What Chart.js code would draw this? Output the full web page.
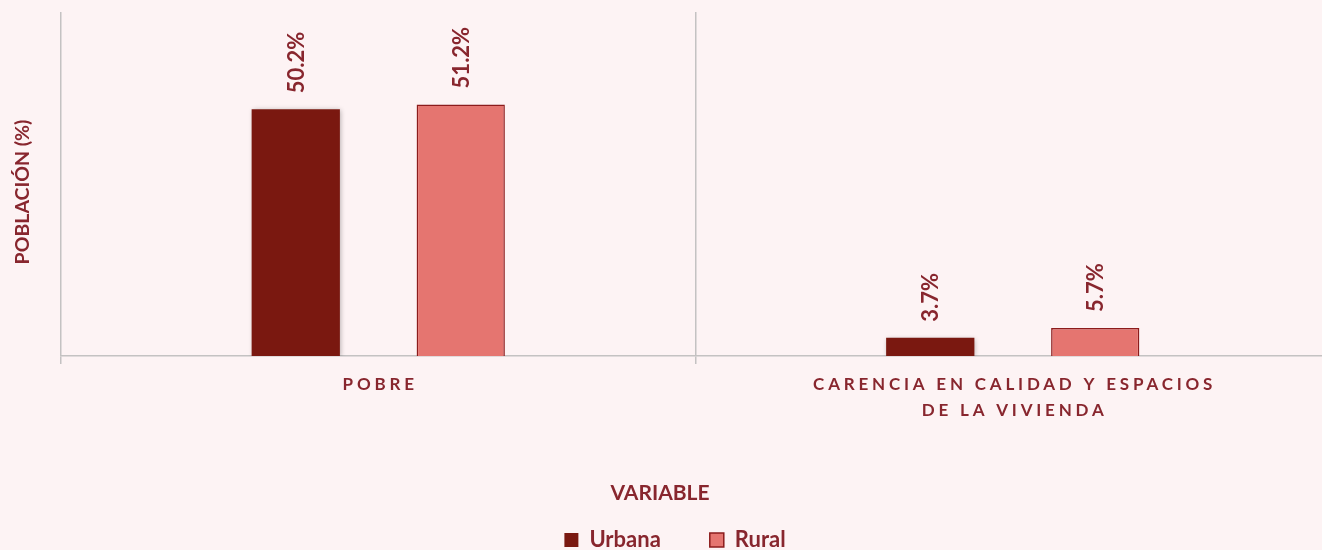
<!DOCTYPE html>
<html><head><meta charset="utf-8">
<script src="https://cdn.jsdelivr.net/npm/chart.js@4"></script>
<style>html,body{margin:0;padding:0;background:#FDF3F4;overflow:hidden;}#wrap{width:1330px;height:550px;position:relative;}</style>
</head><body><div id="wrap"><canvas id="c"></canvas></div>
<script>
const categories = [["POBRE"], ["CARENCIA EN CALIDAD Y ESPACIOS", "DE LA VIVIENDA"]];
const seriesNames = ["Urbana", "Rural"];
const urbana = [50.2, 3.7];
const rural = [51.2, 5.7];
const xTitle = 'VARIABLE';
const yTitle = 'POBLACIÓN (%)';
const yMax = 70;

const TXT = '#88262E';
const FONT = 'Lato';

const labelPlugin = {
  id: 'valueLabels',
  beforeDatasetDraw(chart, args) {
    if (args.index === 0) {
      const ctx = chart.ctx;
      ctx.save();
      ctx.shadowColor = 'rgba(0,0,0,0.3)';
      ctx.shadowBlur = 5;
      ctx.shadowOffsetX = 1;
      ctx.shadowOffsetY = 1;
    }
  },
  afterDatasetDraw(chart, args) {
    if (args.index === 0) chart.ctx.restore();
  },
  afterDatasetsDraw(chart) {
    const ctx = chart.ctx;
    chart.data.datasets.forEach((ds, di) => {
      const meta = chart.getDatasetMeta(di);
      meta.data.forEach((el, i) => {
        ctx.save();
        ctx.translate(el.x, el.y - 16);
        ctx.rotate(-Math.PI / 2);
        ctx.font = 'bold 22px ' + FONT;
        ctx.fillStyle = TXT;
        ctx.textAlign = 'left';
        ctx.textBaseline = 'middle';
        ctx.fillText(ds.data[i].toFixed(1) + '%', 0, 1);
        ctx.restore();
      });
    });
  },
  afterDraw(chart) {
    const ctx = chart.ctx;
    const xs = chart.scales.x;
    ctx.save();
    ctx.font = 'bold 17px ' + FONT;
    ctx.fillStyle = TXT;
    ctx.textAlign = 'center';
    ctx.textBaseline = 'middle';
    const sp = 3.8;
    ctx.letterSpacing = sp + 'px';
    categories.forEach((lines, i) => {
      const x = xs.getPixelForTick(i) + sp / 2;
      lines.forEach((t, j) => {
        ctx.fillText(t, x, chart.chartArea.bottom + 29 + j * 25.5);
      });
    });
    ctx.letterSpacing = '0px';
    ctx.font = 'bold 21px ' + FONT;
    ctx.fillText(xTitle, 660, 493);
    ctx.translate(23, 192);
    ctx.rotate(-Math.PI / 2);
    ctx.font = 'bold 19.5px ' + FONT;
    ctx.fillText(yTitle, 0, 0);
    ctx.restore();
  },
  afterInit(chart) {
    const lg = chart.legend;
    if (lg) {
      const f = lg.fit.bind(lg);
      lg.fit = function () { f(); this.height = 22; };
    }
  },
  afterLayout(chart) {
    const lg = chart.legend;
    if (lg) {
      const pad = lg.options.labels.padding;
      lg.top = 540 - 11 - pad;
      lg.bottom = 550;
      lg.height = lg.bottom - lg.top;
      lg.left += 10;
      lg.right += 10;
    }
  }
};

new Chart(document.getElementById('c'), {
  type: 'bar',
  data: {
    labels: categories,
    datasets: [
      { label: seriesNames[0], data: urbana, backgroundColor: '#7A1810', borderColor: '#7A1810', borderWidth: 0,
        categoryPercentage: 0.52, barPercentage: 0.535 },
      { label: seriesNames[1], data: rural, backgroundColor: '#E57570', borderColor: '#8C1C1C', borderWidth: 1.5,
        categoryPercentage: 0.52, barPercentage: 0.535 }
    ]
  },
  options: {
    responsive: true,
    maintainAspectRatio: false,
    animation: false,
    layout: { padding: { top: 12, right: 0, left: 0, bottom: 0 } },
    plugins: {
      legend: {
        position: 'bottom',
        labels: {
          boxWidth: 14, boxHeight: 14, padding: 49,
          color: TXT, font: { family: FONT, size: 22, weight: 'bold' },
          generateLabels(chart) {
            return chart.data.datasets.map((ds, i) => ({
              text: ds.label, fillStyle: ds.backgroundColor, strokeStyle: ds.borderColor,
              lineWidth: i === 1 ? 1.5 : 0, fontColor: TXT, datasetIndex: i, hidden: false
            }));
          }
        }
      },
      tooltip: { enabled: false }
    },
    scales: {
      x: {
        ticks: { display: false },
        grid: { display: true, color: '#C4C2C2', lineWidth: 1.5, tickLength: 8, offset: true, drawOnChartArea: true },
        border: { display: true, color: '#C4C2C2', width: 1.5 },
        title: { display: false, text: xTitle },
        afterFit(s) { s.height = 172; }
      },
      y: {
        min: 0, max: yMax,
        ticks: { display: false },
        grid: { display: false },
        border: { display: false },
        title: { display: false, text: yTitle },
        afterFit(s) { s.width = 61; }
      }
    }
  },
  plugins: [labelPlugin]
});
</script>
</body></html>
